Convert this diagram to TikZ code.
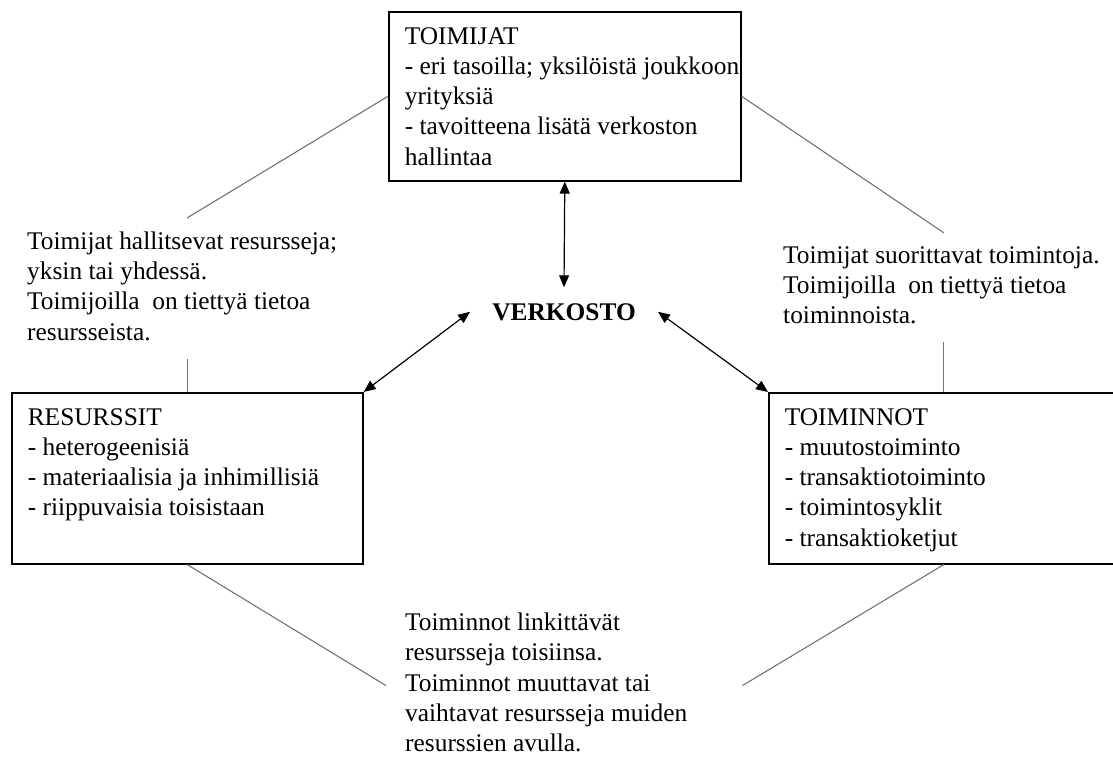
\documentclass[tikz,border=0pt]{standalone}
\usepackage{fontspec}
\setmainfont{Liberation Serif}
\usepackage{tikz}
\usetikzlibrary{arrows.meta}

\tikzset{
  txt/.style={font=\fontsize{25.4}{30.3}\selectfont, inner sep=0pt, anchor=north west},
  boxnode/.style={txt, draw, line width=1.6pt, inner xsep=16pt, inner ysep=11pt},
  thinline/.style={draw=black!55, line width=1.1pt},
  link/.style={{Triangle[length=12pt,width=10pt]}-{Triangle[length=12pt,width=10pt]}, line width=1.2pt},
}

\begin{document}
\begin{tikzpicture}[x=1pt, y=-1pt]
  \useasboundingbox (0,0) rectangle (1113,756);
  \clip (0,0) rectangle (1113,756);

  % boxes
  \node[boxnode] (toimijat) at (388,11) {\parbox[t][147pt][t]{320pt}{\raggedright\strut TOIMIJAT\\ \mbox{- eri tasoilla; yksilöistä joukkoon}\\ yrityksiä\\ - tavoitteena lisätä verkoston\\ hallintaa}};
  \node[boxnode] (resurssit) at (11,392) {\parbox[t][149pt][t]{319pt}{\raggedright\strut RESURSSIT\\ - heterogeenisiä\\ - materiaalisia ja inhimillisiä\\ - riippuvaisia toisistaan}};
  \node[boxnode] (toiminnot) at (768,392) {\parbox[t][149pt][t]{318pt}{\raggedright\strut TOIMINNOT\\ - muutostoiminto\\ - transaktiotoiminto\\ - toimintosyklit\\ - transaktioketjut}};

  % texts between the boxes
  \node[txt, inner ysep=10pt] (toimres) at (27,217.8) {\parbox[t]{315pt}{\raggedright\strut Toimijat hallitsevat resursseja;\\ yksin tai yhdessä.\\ Toimijoilla\ \ on tiettyä tietoa\\ resursseista.\strut}};
  \node[txt, inner ysep=9pt] (toimtoim) at (783,232.8) {\parbox[t]{325pt}{\raggedright\strut Toimijat suorittavat toimintoja.\\ Toimijoilla\ \ on tiettyä tietoa\\ toiminnoista.\strut}};
  \node[txt, inner xsep=19pt] (toimlink) at (386,609) {\parbox[t]{318pt}{\raggedright\strut Toiminnot linkittävät\\ resursseja toisiinsa.\\ Toiminnot muuttavat tai\\ vaihtavat resursseja muiden\\ resurssien avulla.}};

  \node[font=\fontsize{25.4}{30.3}\selectfont\bfseries, inner xsep=22pt, inner ysep=15.7pt, anchor=base] (verkosto) at (564,320) {VERKOSTO};

  % arrows to the centre
  \draw[link] (toimijat.south) -- (verkosto.north);
  \draw[link] (verkosto.west) -- (resurssit.north east);
  \draw[link] (verkosto.east) -- (toiminnot.north west);

  % thin lines round the triangle
  \draw[thinline] (toimijat.west) -- (resurssit.north |- toimres.north);
  \draw[thinline] (resurssit.north) -- (resurssit.north |- toimres.south);
  \draw[thinline] (toimijat.east) -- (toiminnot.north |- toimtoim.north);
  \draw[thinline] (toiminnot.north) -- (toiminnot.north |- toimtoim.south);
  \draw[thinline] (resurssit.south) -- ([yshift=-5pt]toimlink.west);
  \draw[thinline] (toiminnot.south) -- ([yshift=-5pt]toimlink.east);
\end{tikzpicture}
\end{document}
